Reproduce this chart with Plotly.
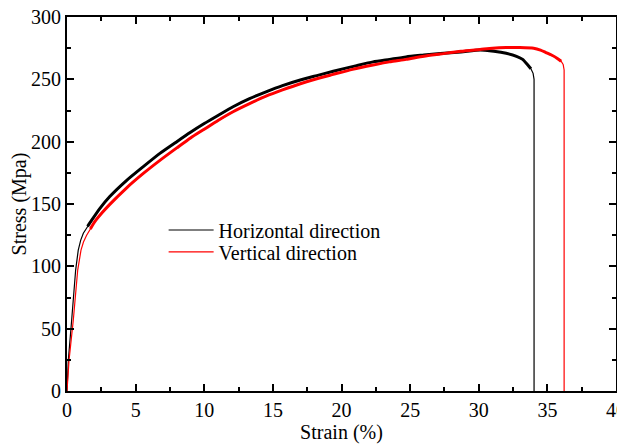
import plotly.graph_objects as go

# stress-strain readings (strain %, stress MPa)
strain_h = [0, 0.1, 0.34, 0.53, 0.63, 0.82, 1.0, 1.19, 1.5, 1.8, 2.4, 3.1, 4.35, 5.56,
            6.77, 8.0, 9.0, 10.0, 11.0, 12.1, 13.3, 14.5, 15.7, 17.0, 18.2, 19.4,
            21.1, 22.3, 23.5, 24.7, 26.0, 27.2, 28.7, 30.1, 31.1, 32.0, 32.75,
            33.2, 33.5, 33.8, 33.96, 34.03, 34.03]
stress_h = [0, 25, 57, 81, 97, 113, 121, 126.5, 132, 137, 146.5, 155.8, 169, 180,
            190.6, 200, 207.5, 214.5, 221, 228, 234.5, 240, 245, 249.5, 253, 256.5,
            261, 264, 266, 268, 269.5, 270.8, 272, 273.5, 272.5, 270.9, 268.5,
            266, 262.5, 258.5, 254.8, 250, 0]

strain_v = [0, 0.15, 0.46, 0.63, 0.78, 1.02, 1.2, 1.43, 1.7, 2.04, 2.6, 3.1, 4.35,
            5.56, 6.77, 8.0, 9.0, 10.0, 11.0, 12.1, 13.3, 14.5, 15.7, 17.0, 18.2,
            19.4, 20.8, 22.3, 23.5, 24.7, 26.0, 27.2, 28.7, 30.1, 31.0, 32.0,
            33.0, 34.0, 34.5, 34.9, 35.3, 35.7, 36.0, 36.15, 36.22, 36.22]
stress_v = [0, 25, 57, 81, 97, 113, 119.5, 125, 130, 136, 143.5, 149.5, 163,
            174.5, 185, 195, 203, 210, 217, 224, 230.5, 236.5, 241.5, 246.5, 250.5,
            254, 258, 261.5, 264, 266, 268.5, 270.3, 272.5, 274, 275, 275.5,
            275.5, 275, 273.5, 271.5, 269.5, 267, 264.5, 262, 257.5, 0]

names = ['Horizontal direction', 'Vertical direction']
colors = ['black', 'red']
font = 'Liberation Serif'

fig = go.Figure()
for xs, ys, name, c, lg in [(strain_h, stress_h, names[0], colors[0], 'legend'),
                            (strain_v, stress_v, names[1], colors[1], 'legend2')]:
    # noisy plastic region drawn as a thicker band
    fig.add_trace(go.Scatter(x=xs[8:-3], y=ys[8:-3], mode='lines',
                             line=dict(color=c, width=3, shape='spline', smoothing=0.6),
                             showlegend=False, hoverinfo='skip'))
    fig.add_trace(go.Scatter(x=xs, y=ys, mode='lines', name=name, legend=lg,
                             line=dict(color=c, width=1.2)))

axis = dict(showline=True, linecolor='black', linewidth=2, mirror='ticks',
            ticks='inside', ticklen=7, tickwidth=1.5, tickcolor='black',
            showgrid=False, zeroline=False, automargin=False,
            ticklabeloverflow='allow',
            tickfont=dict(family=font, size=20, color='black'),
            minor=dict(ticks='inside', ticklen=4, tickwidth=1.5, tickcolor='black'))

fig.update_xaxes(axis, range=[0, 40], dtick=5, minor_dtick=2.5,
                 title=dict(text='Strain (%)', font=dict(family=font, size=20, color='black'),
                            standoff=2))
fig.update_yaxes(axis, range=[0, 300], dtick=50, minor_dtick=25,
                 title=dict(text='Stress (Mpa)', font=dict(family=font, size=20, color='black'),
                            standoff=6))

leg = dict(x=0.176, xanchor='left', yanchor='middle', itemwidth=45,
           bgcolor='rgba(0,0,0,0)', font=dict(family=font, size=20, color='black'))

# page body adds an 8px offset, so margins are trimmed by that amount
fig.update_layout(
    width=625, height=446,
    margin=dict(l=59, r=17, t=9, b=63),
    plot_bgcolor='white', paper_bgcolor='white',
    font=dict(family=font, color='black'),
    legend=dict(leg, y=0.4305),
    legend2=dict(leg, y=0.372),
)

fig.write_html("out.html")
